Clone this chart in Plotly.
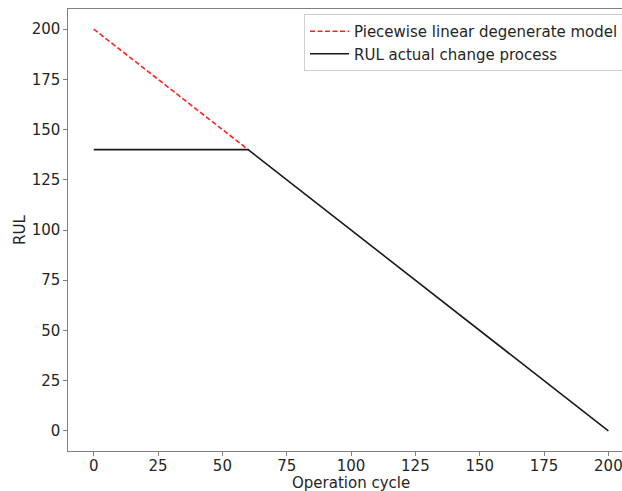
import plotly.graph_objects as go

model_x = [0, 60]
model_y = [200, 140]
actual_x = [0, 60, 200]
actual_y = [140, 140, 0]
x_ticks = [0, 25, 50, 75, 100, 125, 150, 175, 200]
y_ticks = [0, 25, 50, 75, 100, 125, 150, 175, 200]

font = "DejaVu Sans"
txt = "#262626"

fig = go.Figure()
fig.add_trace(go.Scatter(x=model_x, y=model_y, mode="lines",
                         line=dict(color="#ff2020", width=1.6, dash="5px,2.5px"),
                         name="Piecewise linear degenerate model"))
fig.add_trace(go.Scatter(x=actual_x, y=actual_y, mode="lines",
                         line=dict(color="#1a1a1a", width=1.6),
                         name="RUL actual change process"))

fig.update_layout(
    width=622, height=491,
    margin=dict(l=68, r=0, t=9, b=40, autoexpand=False),
    paper_bgcolor="white", plot_bgcolor="white",
    font=dict(family=font, size=15, color=txt),
    showlegend=True,
    legend=dict(x=(304 - 68) / 554, y=(451 - 14) / 442, xanchor="left", yanchor="top",
                bgcolor="white", bordercolor="#d0d0d0", borderwidth=1,
                font=dict(size=15, color=txt), itemwidth=39,
                tracegroupgap=0),
)
fig.update_xaxes(range=[-10, 205.3], tickvals=x_ticks, showgrid=False, zeroline=False,
                 showline=True, linecolor="#7f7f7f", linewidth=1.2, mirror=True,
                 ticks="outside", ticklen=3.5, tickcolor="#7f7f7f",
                 ticklabeloverflow="allow", ticklabelstandoff=-3,
                 tickfont=dict(size=15, color=txt))
fig.update_yaxes(range=[-10, 210], tickvals=y_ticks, showgrid=False, zeroline=False,
                 showline=True, linecolor="#7f7f7f", linewidth=1.2,
                 ticks="outside", ticklen=3.5, tickcolor="#7f7f7f",
                 ticklabeloverflow="allow",
                 tickfont=dict(size=15, color=txt))

fig.add_annotation(text="Operation cycle", xref="paper", yref="paper",
                   x=(351 - 68) / 554, y=0, yshift=-32, showarrow=False,
                   xanchor="center", yanchor="middle", font=dict(size=15, color=txt))
fig.add_annotation(text="RUL", xref="paper", yref="paper",
                   x=0, xshift=-48, y=0.5, textangle=-90, showarrow=False,
                   xanchor="center", yanchor="middle", font=dict(size=15, color=txt))

fig.write_html("out.html")
